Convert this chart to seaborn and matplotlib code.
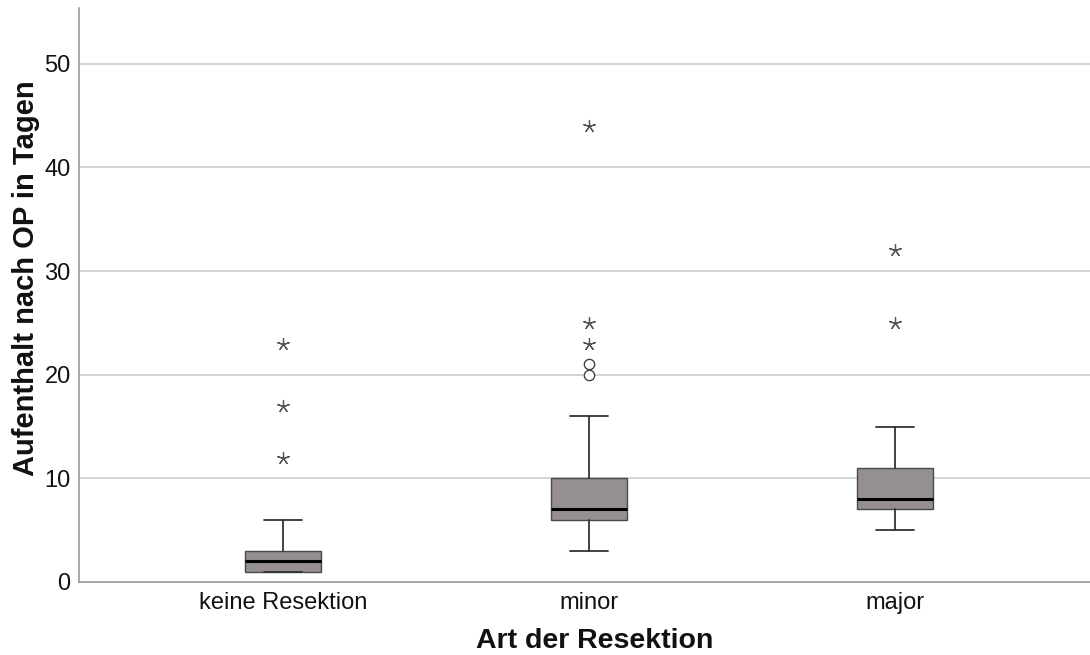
import matplotlib
matplotlib.use("Agg")
import matplotlib.pyplot as plt
import seaborn as sns
import pandas as pd

categories = ["keine Resektion", "minor", "major"]
q1 = [1, 6, 7]
median = [2, 7, 8]
q3 = [3, 10, 11]
whisker_low = [1, 3, 5]
whisker_high = [6, 16, 15]
# outliers (circle = moderate, star = extreme)
outlier_cat = ["keine Resektion", "keine Resektion", "keine Resektion",
               "minor", "minor", "minor", "minor", "minor",
               "major", "major"]
outlier_val = [12, 17, 23, 20, 21, 23, 25, 44, 25, 32]
outlier_kind = ["extreme", "extreme", "extreme",
                "moderate", "moderate", "extreme", "extreme", "extreme",
                "extreme", "extreme"]
y_ticks = [0, 10, 20, 30, 40, 50]
x_label = "Art der Resektion"
y_label = "Aufenthalt nach OP in Tagen"

sns.set_theme(style="white")
plt.rcParams["font.family"] = ["Liberation Sans", "DejaVu Sans"]

fig = plt.figure(figsize=(10.9, 6.55), dpi=100)
ax = fig.add_axes([0.0725, 0.1115, 0.9275, 0.8765])

for t in y_ticks[1:]:
    ax.axhline(t, color="#cccccc", lw=1.2, zorder=0)

stats = []
for i, c in enumerate(categories):
    stats.append(dict(label=c, q1=q1[i], med=median[i], q3=q3[i],
                      whislo=whisker_low[i], whishi=whisker_high[i], fliers=[]))
ax.bxp(stats, positions=range(len(categories)), widths=0.25, patch_artist=True,
       showfliers=False,
       boxprops=dict(facecolor="#958f8f", edgecolor="#4a4a4a", linewidth=1.0),
       medianprops=dict(color="#000000", linewidth=2.2),
       whiskerprops=dict(color="#333333", linewidth=1.3),
       capprops=dict(color="#333333", linewidth=1.3),
       capwidths=0.125)

df = pd.DataFrame({"cat": outlier_cat, "val": outlier_val, "kind": outlier_kind})
df["pos"] = df["cat"].map({c: i for i, c in enumerate(categories)})
ext = df[df["kind"] == "extreme"]
mod = df[df["kind"] == "moderate"]
sns.scatterplot(data=ext, x="pos", y="val", ax=ax, marker=(5, 2, 0), s=75,
                color="#555555", linewidth=0.9, zorder=4, legend=False)
sns.scatterplot(data=mod, x="pos", y="val", ax=ax, marker="o", s=55,
                facecolor="white", edgecolor="#444444", linewidth=1.0, zorder=4,
                legend=False)

ax.set_xlim(-0.667, 2.637)
ax.set_ylim(0, 55.4)
ax.set_yticks(y_ticks)
ax.set_xticks(range(len(categories)))
ax.set_xticklabels(categories)
ax.tick_params(axis="both", length=0, labelsize=17, colors="#111111")
ax.tick_params(axis="y", pad=6)
ax.tick_params(axis="x", pad=7)
ax.set_xlabel(x_label, fontsize=20.5, fontweight="bold", color="#111111")
ax.set_ylabel(y_label, fontsize=21, fontweight="bold", color="#111111")
ax.xaxis.set_label_coords(0.51, -0.080)
ax.yaxis.set_label_coords(-0.0385, 0.53)

for s in ["top", "right"]:
    ax.spines[s].set_visible(False)
for s in ["left", "bottom"]:
    ax.spines[s].set_color("#999999")
    ax.spines[s].set_linewidth(1.2)

fig.savefig("out.png", dpi=100)
